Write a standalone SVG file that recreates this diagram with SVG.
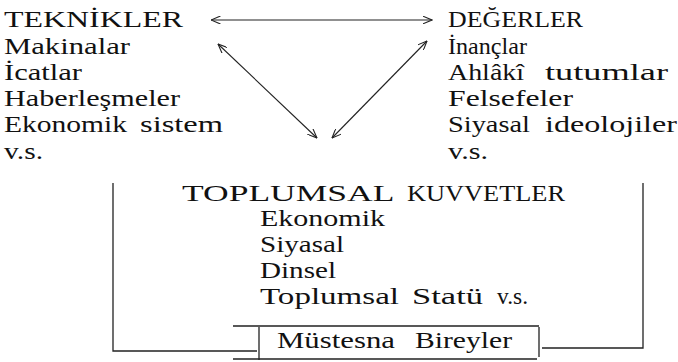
<svg xmlns="http://www.w3.org/2000/svg" width="678" height="362" viewBox="0 0 678 362">
<style>
text{font-family:"Liberation Serif","Times New Roman",serif;font-size:24px;fill:#111}
.ln{stroke:#222;stroke-width:1.3;fill:none}
.ar{stroke:#222;stroke-width:1.1;fill:none;marker-start:url(#ah);marker-end:url(#ah)}
</style>
<defs>
<marker id="ah" viewBox="0 0 10 8" refX="9.5" refY="4" markerWidth="10" markerHeight="8" markerUnits="userSpaceOnUse" orient="auto-start-reverse">
<path d="M0,0 L9.5,4 L0,8" fill="none" stroke="#222" stroke-width="1.1"/>
</marker>
</defs>
<rect width="678" height="362" fill="#fff"/>
<g id="teknikler">
<text x="4" y="27" textLength="179" lengthAdjust="spacingAndGlyphs">TEKNİKLER</text>
<text x="4" y="54" textLength="126" lengthAdjust="spacingAndGlyphs">Makinalar</text>
<text x="4" y="80" textLength="78" lengthAdjust="spacingAndGlyphs">İcatlar</text>
<text x="4" y="106" textLength="176" lengthAdjust="spacingAndGlyphs">Haberleşmeler</text>
<text x="4" y="132"><tspan textLength="123" lengthAdjust="spacingAndGlyphs">Ekonomik</tspan> <tspan x="140" textLength="83" lengthAdjust="spacingAndGlyphs">sistem</tspan></text>
<text x="4" y="159" textLength="39" lengthAdjust="spacingAndGlyphs">v.s.</text>
</g>
<g id="degerler">
<text x="448" y="27" textLength="135" lengthAdjust="spacingAndGlyphs">DEĞERLER</text>
<text x="448" y="54" textLength="79" lengthAdjust="spacingAndGlyphs">İnançlar</text>
<text x="448" y="80"><tspan textLength="76" lengthAdjust="spacingAndGlyphs">Ahlâkî</tspan> <tspan x="545" textLength="123" lengthAdjust="spacingAndGlyphs">tutumlar</tspan></text>
<text x="448" y="106" textLength="125" lengthAdjust="spacingAndGlyphs">Felsefeler</text>
<text x="448" y="132"><tspan textLength="82" lengthAdjust="spacingAndGlyphs">Siyasal</tspan> <tspan x="545" textLength="132" lengthAdjust="spacingAndGlyphs">ideolojiler</tspan></text>
<text x="448" y="159" textLength="40" lengthAdjust="spacingAndGlyphs">v.s.</text>
</g>
<g id="toplumsal-kuvvetler">
<text x="182" y="201"><tspan textLength="211" lengthAdjust="spacingAndGlyphs">TOPLUMSAL</tspan> <tspan x="407" textLength="158" lengthAdjust="spacingAndGlyphs">KUVVETLER</tspan></text>
<text x="260" y="226" textLength="125" lengthAdjust="spacingAndGlyphs">Ekonomik</text>
<text x="260" y="252" textLength="84" lengthAdjust="spacingAndGlyphs">Siyasal</text>
<text x="260" y="278" textLength="76" lengthAdjust="spacingAndGlyphs">Dinsel</text>
<text x="260" y="304"><tspan textLength="139" lengthAdjust="spacingAndGlyphs">Toplumsal</tspan> <tspan x="412" textLength="71" lengthAdjust="spacingAndGlyphs">Statü</tspan> <tspan x="497" textLength="31" lengthAdjust="spacingAndGlyphs">v.s.</tspan></text>
</g>
<g id="mustesna-bireyler">
<path class="ln" d="M233,326 H539 M233,359 H537 M259,327 V360 M539,327 V357"/>
<text x="277" y="348"><tspan textLength="118" lengthAdjust="spacingAndGlyphs">Müstesna</tspan> <tspan x="415" textLength="97" lengthAdjust="spacingAndGlyphs">Bireyler</tspan></text>
</g>
<g id="connectors">
<line class="ar" x1="211" y1="20" x2="432" y2="20"/>
<line class="ar" x1="218" y1="44" x2="317" y2="138"/>
<line class="ar" x1="332" y1="138" x2="427" y2="41"/>
<path class="ln" d="M113,183 V351 H257"/>
<path class="ln" d="M542,348 H643 V183"/>
</g>
</svg>
